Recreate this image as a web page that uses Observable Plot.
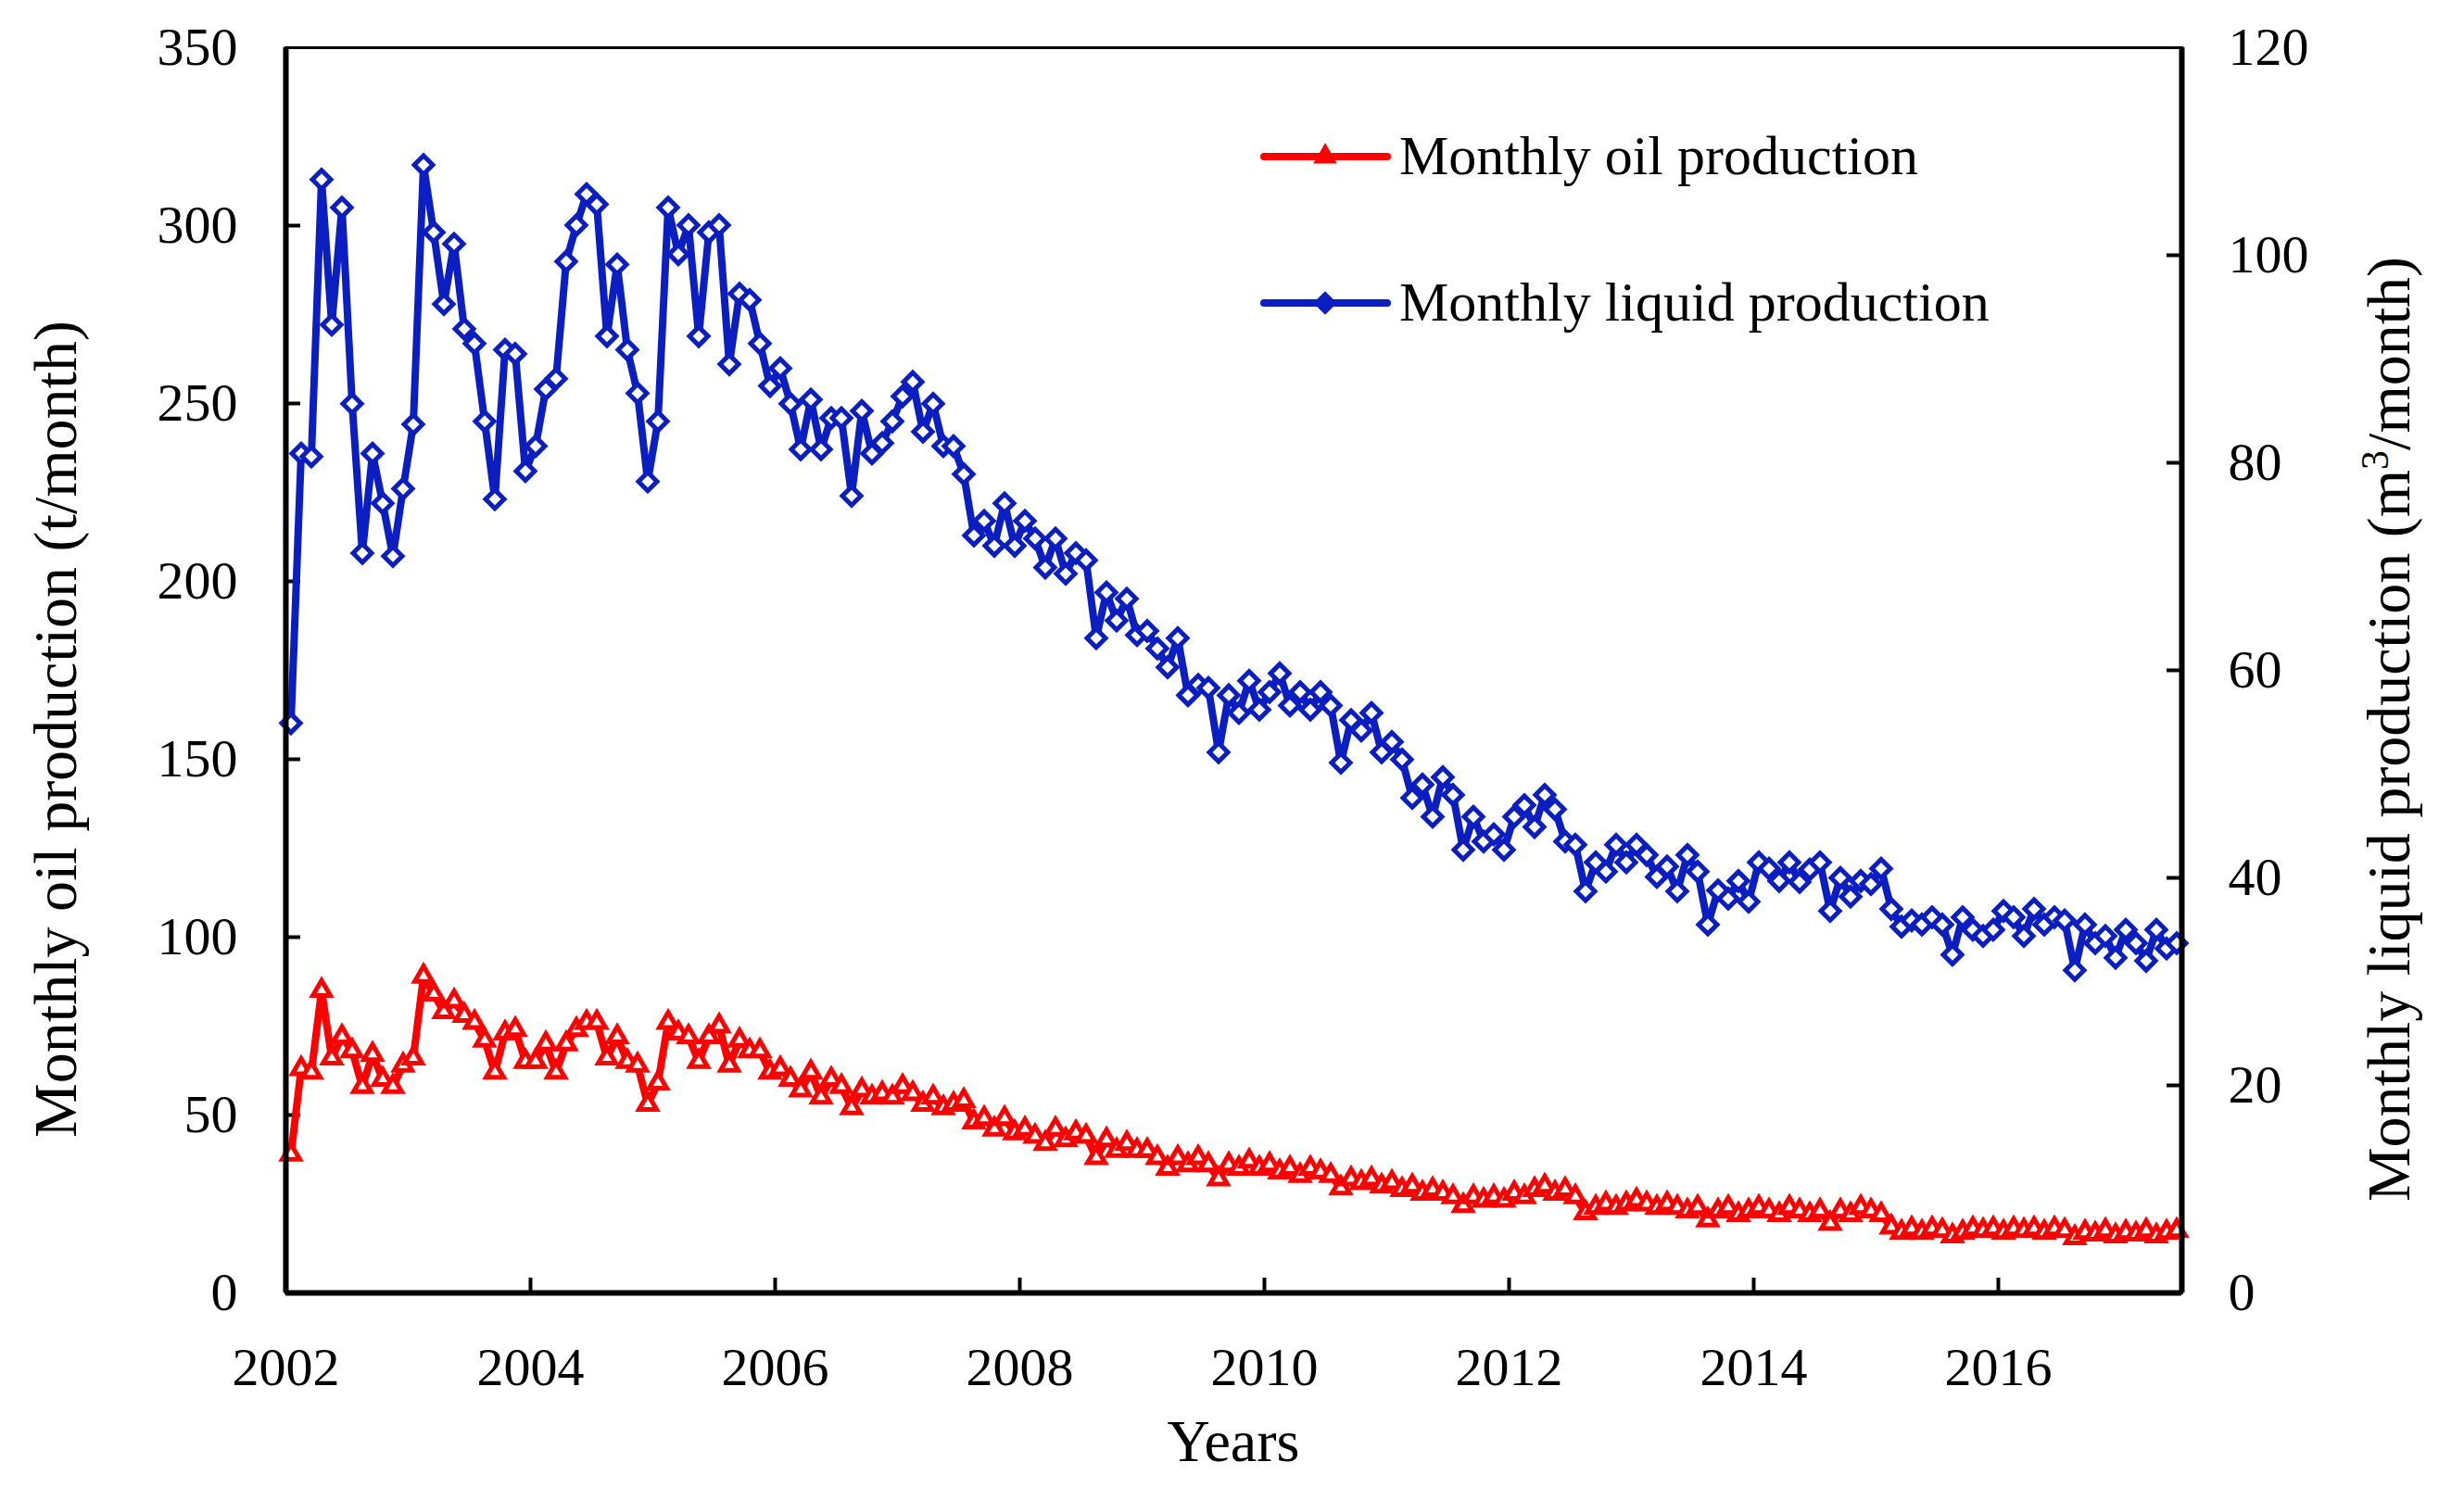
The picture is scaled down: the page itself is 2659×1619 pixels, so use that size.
<!DOCTYPE html>
<html>
<head>
<meta charset="utf-8">
<script src="https://cdn.jsdelivr.net/npm/d3@7"></script>
<script src="https://cdn.jsdelivr.net/npm/@observablehq/plot@0.6"></script>
<style>
html, body { margin: 0; padding: 0; background: #fff; }
#chart svg { display: block; }
</style>
</head>
<body>
<div id="chart"></div>
<script>
// ---------- data ----------
const startYear = 2002; // first month: January 2002, one point per month
const oilProduction = [ // t/month, left axis
  39, 63, 62, 85, 66, 72, 68, 58, 67, 60, 58, 64,
  66, 89, 84, 79, 82, 78, 76, 71, 62, 73, 74, 65,
  65, 70, 62, 70, 74, 76, 76, 66, 72, 65, 64, 53,
  59, 76, 73, 72, 65, 72, 75, 64, 71, 68, 68, 62,
  63, 60, 57, 62, 55, 60, 58, 52, 57, 55, 56, 55,
  58, 56, 53, 55, 52, 53, 54, 48, 49, 46, 49, 45,
  46, 44, 42, 46, 43, 45, 44, 38, 43, 40, 42, 40,
  40, 38, 35, 38, 36, 38, 36, 32, 36, 35, 37, 35,
  36, 34, 35, 33, 35, 34, 33, 29.5, 32, 31, 32, 30,
  31, 29, 30, 28, 29, 28, 27, 24.5, 27, 26, 27, 26,
  28, 27, 29, 30, 28, 29, 27, 22.5, 24, 25, 24, 25,
  26, 25, 24, 25, 24, 23, 24, 20.5, 23, 24, 22, 23,
  24, 23, 22, 24, 23, 22, 23, 19.5, 23, 22, 24, 23,
  22, 18.5, 17, 18, 17, 18, 17.5, 16, 17, 18, 17.5, 18,
  17, 18, 17.5, 18, 17, 18, 17.5, 15.5, 17, 16.5, 17.5, 16,
  17, 16.5, 17.5, 16, 17, 17.5
];
const liquidProduction = [ // m3/month, right axis
  54.9, 80.9, 80.6, 107.3, 93.3, 104.6, 85.7, 71.3, 80.9, 76.1, 71.0, 77.5,
  83.7, 108.7, 102.2, 95.3, 101.1, 92.9, 91.5, 84.0, 76.5, 90.9, 90.5, 79.2,
  81.6, 87.1, 88.1, 99.4, 102.9, 105.9, 104.9, 92.2, 99.1, 90.9, 86.7, 78.2,
  84.0, 104.6, 100.1, 102.9, 92.2, 102.2, 102.9, 89.5, 96.3, 95.7, 91.5, 87.4,
  89.1, 85.7, 81.3, 86.1, 81.3, 84.3, 84.3, 76.8, 85.0, 80.9, 81.9, 84.0,
  86.4, 87.8, 83.0, 85.7, 81.6, 81.6, 78.9, 73.0, 74.4, 72.0, 76.1, 72.0,
  74.4, 72.7, 69.9, 72.7, 69.3, 71.3, 70.6, 63.1, 67.5, 64.8, 66.9, 63.4,
  63.8, 62.1, 60.3, 63.1, 57.6, 58.6, 58.3, 52.1, 57.6, 55.9, 59.0, 56.2,
  57.9, 59.7, 56.6, 57.9, 56.2, 57.9, 56.6, 51.1, 55.2, 54.2, 55.9, 52.1,
  53.1, 51.4, 47.7, 49.0, 45.9, 49.7, 48.0, 42.7, 45.9, 43.5, 44.2, 42.7,
  45.9, 47.0, 44.9, 48.0, 46.6, 43.5, 43.2, 38.7, 41.5, 40.6, 43.2, 41.5,
  43.2, 42.2, 40.1, 41.1, 38.7, 42.2, 40.6, 35.5, 38.8, 38.0, 39.7, 37.7,
  41.5, 40.9, 39.7, 41.5, 39.6, 40.8, 41.5, 36.8, 40.0, 38.2, 39.7, 39.4,
  40.9, 37.0, 35.3, 35.9, 35.5, 36.2, 35.5, 32.6, 36.2, 35.0, 34.4, 35.0,
  36.8, 36.2, 34.4, 37.0, 35.5, 36.2, 35.9, 31.1, 35.5, 33.7, 34.4, 32.3,
  35.0, 33.7, 32.0, 35.0, 33.2, 33.7
];
const xTickLabels = [2002, 2004, 2006, 2008, 2010, 2012, 2014, 2016];
const xTickMarks = [2004, 2006, 2008, 2010, 2012, 2014, 2016];
const leftTicks = [0, 50, 100, 150, 200, 250, 300, 350];
const rightTicks = [0, 20, 40, 60, 80, 100, 120];
const seriesNames = ["Monthly oil production", "Monthly liquid production"];
const xTitle = "Years";
const leftTitle = "Monthly oil production (t/month)";

// ---------- layout ----------
const W = 2659, H = 1619;
const mL = 308, mR = 305, mT = 51, mB = 224;
const innerW = W - mL - mR, innerH = H - mT - mB;
const ratio = 350 / 120; // left units per right unit
const blue = "#0b1ec2", red = "#ff0000";
const font = "'Liberation Serif', 'Times New Roman', Times, serif";
const tickLen = 16;

const data = oilProduction.map((v, i) => ({
  x: startYear + (i + 0.5) / 12,
  oil: v,
  liquid: liquidProduction[i]
}));

const chart = Plot.plot({
  width: W,
  height: H,
  marginLeft: mL,
  marginRight: mR,
  marginTop: mT,
  marginBottom: mB,
  style: { fontFamily: font, fontSize: "58px", color: "#000", background: "#fff" },
  x: { domain: [2002, 2017.5] },
  y: { domain: [0, 350] },
  marks: [
    Plot.axisX(xTickLabels, { tickSize: 0, tickPadding: 58, tickFormat: d => String(d), label: null, fontSize: 58 }),
    Plot.axisY(leftTicks, { tickSize: 0, tickPadding: 52, tickFormat: d => String(d), label: null, fontSize: 58 }),
    Plot.axisY(rightTicks.map(d => d * ratio), { anchor: "right", tickSize: 0, tickPadding: 50, tickFormat: d => String(Math.round(d / ratio)), label: null, fontSize: 58 }),
    Plot.tickX(xTickMarks, { x: d => d, insetTop: innerH - tickLen, stroke: "#000", strokeWidth: 4 }),
    Plot.tickY(leftTicks.slice(1, -1), { y: d => d, insetRight: innerW - tickLen, stroke: "#000", strokeWidth: 4 }),
    Plot.tickY(rightTicks.slice(1, -1), { y: d => d * ratio, insetLeft: innerW - tickLen, stroke: "#000", strokeWidth: 4 }),
    Plot.line(data, { x: "x", y: d => d.liquid * ratio, stroke: blue, strokeWidth: 8, strokeLinejoin: "round" }),
    Plot.dot(data, { x: "x", y: d => d.liquid * ratio, symbol: "diamond2", r: 9, fill: "#fff", stroke: blue, strokeWidth: 5 }),
    Plot.line(data, { x: "x", y: "oil", stroke: red, strokeWidth: 8, strokeLinejoin: "round" }),
    Plot.dot(data, { x: "x", y: "oil", symbol: "triangle2", r: 9, fill: "#fff", stroke: red, strokeWidth: 5 }),
    Plot.frame({ stroke: "#000", strokeWidth: 3 }),
    Plot.ruleX([2002, 2017.5], { stroke: "#000", strokeWidth: 6 }),
    Plot.ruleY([0], { stroke: "#000", strokeWidth: 6 })
  ]
});

document.getElementById("chart").appendChild(chart);

// ---------- titles and legend ----------
const svg = d3.select(chart);
const g = svg.append("g").attr("font-family", font).attr("fill", "#000");

g.append("text")
  .attr("transform", "translate(82,787) rotate(-90)")
  .attr("text-anchor", "middle")
  .attr("font-size", 66)
  .text(leftTitle);

const rt = g.append("text")
  .attr("transform", "translate(2600,787) rotate(-90)")
  .attr("text-anchor", "middle")
  .attr("font-size", 66);
rt.append("tspan").text("Monthly liquid production (m");
rt.append("tspan").attr("baseline-shift", "super").attr("font-size", 42).text("3");
rt.append("tspan").text("/month)");

g.append("text")
  .attr("x", mL + innerW / 2)
  .attr("y", 1577)
  .attr("text-anchor", "middle")
  .attr("font-size", 64)
  .text(xTitle);

const legend = [
  { name: seriesNames[0], color: red, symbol: d3.symbolTriangle2, y: 169 },
  { name: seriesNames[1], color: blue, symbol: d3.symbolDiamond2, y: 327 }
];
for (const item of legend) {
  g.append("line")
    .attr("x1", 1364).attr("x2", 1497)
    .attr("y1", item.y).attr("y2", item.y)
    .attr("stroke", item.color).attr("stroke-width", 8).attr("stroke-linecap", "round");
  g.append("path")
    .attr("d", d3.symbol(item.symbol, 250)())
    .attr("transform", `translate(1430,${item.y})`)
    .attr("fill", item.color).attr("stroke", item.color).attr("stroke-width", 4);
  g.append("text")
    .attr("x", 1510).attr("y", item.y + 19)
    .attr("text-anchor", "start")
    .attr("font-size", 60)
    .text(item.name);
}
</script>
</body>
</html>
